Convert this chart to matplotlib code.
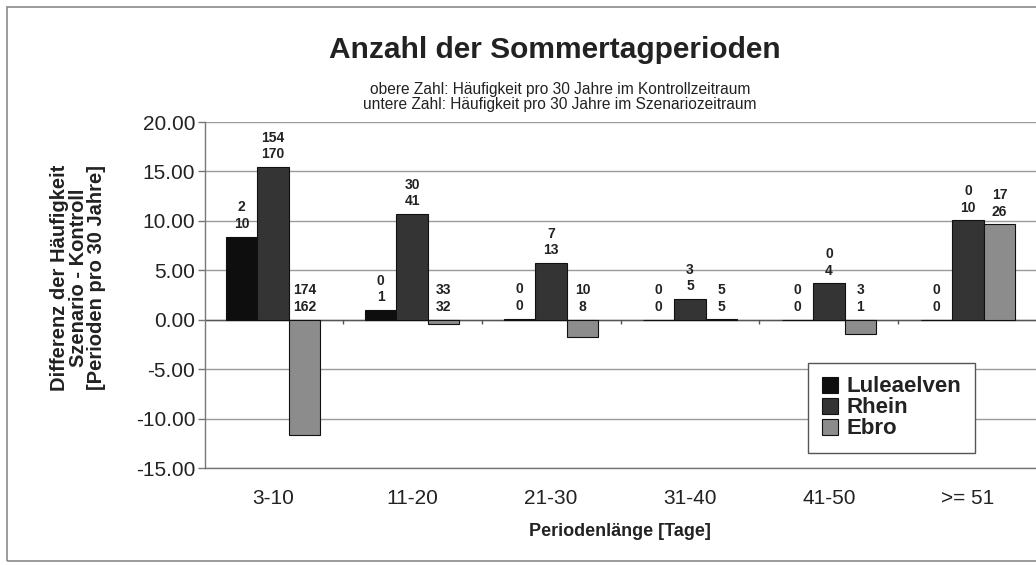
import numpy as np
import matplotlib
matplotlib.use("Agg")
import matplotlib.pyplot as plt
from matplotlib.patches import Rectangle
from matplotlib.lines import Line2D

plt.rcParams['font.family'] = ['Liberation Sans', 'DejaVu Sans']

categories = ["3-10", "11-20", "21-30", "31-40", "41-50", ">= 51"]
series_names = ["Luleaelven", "Rhein", "Ebro"]

lulea_diff = [8.4, 1.0, 0.1, 0.0, 0.0, 0.0]
rhein_diff = [15.45, 10.7, 5.75, 2.1, 3.7, 10.05]
ebro_diff = [-11.7, -0.4, -1.7, 0.05, -1.4, 9.65]

lulea_ctrl = [2, 0, 0, 0, 0, 0]
lulea_scen = [10, 1, 0, 0, 0, 0]
rhein_ctrl = [154, 30, 7, 3, 0, 0]
rhein_scen = [170, 41, 13, 5, 4, 10]
ebro_ctrl = [174, 33, 10, 5, 3, 17]
ebro_scen = [162, 32, 8, 5, 1, 26]

yticks = [20, 15, 10, 5, 0, -5, -10, -15]

colors = ["#0e0e0e", "#343434", "#8c8c8c"]
text_color = "#222222"

W, H = 1036, 565
fig = plt.figure(figsize=(W / 100, H / 100), dpi=100)
fig.patch.set_facecolor("white")

# outer frame
fig.add_artist(Rectangle((7 / W, 4 / H), (W - 4) / W, (H - 11) / H,
                         transform=fig.transFigure, fill=False,
                         edgecolor="#8a8a8a", lw=1.2))

ax_l, ax_r, ax_t, ax_b = 205, 1036, 122, 468
ax = fig.add_axes([ax_l / W, (H - ax_b) / H, (ax_r - ax_l) / W, (ax_b - ax_t) / H])

x = np.arange(len(categories))
bw = 0.227
diffs = [lulea_diff, rhein_diff, ebro_diff]
ctrls = [lulea_ctrl, rhein_ctrl, ebro_ctrl]
scens = [lulea_scen, rhein_scen, ebro_scen]

for i, (name, d, c) in enumerate(zip(series_names, diffs, colors)):
    xs = x + (i - 1) * bw
    ax.bar(xs, d, width=bw, color=c, edgecolor="#111111", linewidth=0.8,
           label=name, zorder=3)
    for xi, v, a, b in zip(xs, d, ctrls[i], scens[i]):
        ax.annotate(f"{a}\n{b}", (xi, max(v, 0)), xytext=(0, 4),
                    textcoords="offset points", ha="center", va="bottom",
                    fontsize=10, fontweight="bold", color=text_color,
                    linespacing=1.25, zorder=4)

ax.set_xlim(-0.49, 5.49)
ax.set_ylim(-15, 20)
ax.set_yticks(yticks)
ax.set_yticklabels([f"{v:.2f}" for v in yticks])
ax.set_xticks(x)
ax.set_xticklabels(categories)
ax.tick_params(axis="x", length=0, pad=15, labelsize=15, labelcolor=text_color)
ax.tick_params(axis="y", length=5, width=1, color="#777777", pad=2,
               labelsize=15, labelcolor=text_color, direction="out")

ax.grid(axis="y", color="#9a9a9a", linewidth=1.0, zorder=0)
ax.set_axisbelow(True)
for s in ["top", "right"]:
    ax.spines[s].set_visible(False)
for s in ["left", "bottom"]:
    ax.spines[s].set_color("#777777")
    ax.spines[s].set_linewidth(1.0)

# category axis at zero with tick marks between categories
ax.axhline(0, color="#555555", linewidth=1.0, zorder=2)
ax.vlines(x[:-1] + 0.5, -0.45, 0, color="#555555", linewidth=1.0, zorder=2)

# titles
fig.text(555 / W, 1 - 50 / H, "Anzahl der Sommertagperioden", ha="center",
         va="center", fontsize=21.5, fontweight="bold", color=text_color)
fig.text(560 / W, 1 - 89 / H, "obere Zahl: Häufigkeit pro 30 Jahre im Kontrollzeitraum",
         ha="center", va="center", fontsize=11.2, color=text_color)
fig.text(560 / W, 1 - 104 / H, "untere Zahl: Häufigkeit pro 30 Jahre im Szenariozeitraum",
         ha="center", va="center", fontsize=11.2, color=text_color)

fig.text(78 / W, 1 - 278 / H,
         "Differenz der Häufigkeit\nSzenario - Kontroll\n[Perioden pro 30 Jahre]",
         rotation=90, ha="center", va="center", multialignment="center",
         fontsize=14.5, fontweight="bold", color=text_color, linespacing=0.95)
fig.text(620 / W, 1 - 531 / H, "Periodenlänge [Tage]", ha="center", va="center",
         fontsize=13, fontweight="bold", color=text_color)

handles = [Line2D([], [], marker="s", linestyle="none", markersize=12,
                  markerfacecolor=c, markeredgecolor="#111111", markeredgewidth=0.8)
           for c in colors]
leg = ax.legend(handles, series_names, loc="upper left",
                bbox_to_anchor=(808 / W, 1 - 363 / H), bbox_transform=fig.transFigure,
                frameon=True, fancybox=False, edgecolor="#555555", framealpha=1,
                prop={"weight": "bold", "size": 16}, handlelength=0.8,
                handletextpad=0.35, labelspacing=0.0, borderpad=0.6,
                borderaxespad=0)
leg.get_frame().set_linewidth(1.0)
for t in leg.get_texts():
    t.set_color(text_color)

fig.savefig("out.png", dpi=100)
